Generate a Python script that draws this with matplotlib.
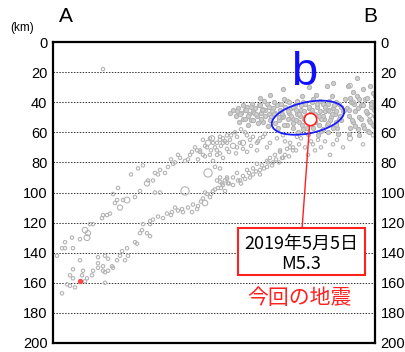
import numpy as np
import matplotlib
matplotlib.use("Agg")
import matplotlib.pyplot as plt
from matplotlib.patches import Ellipse, Rectangle

plt.rcParams["font.family"] = ["Liberation Sans", "Noto Sans CJK JP", "DejaVu Sans"]

# hypocentres along profile A-B: (distance from A, depth km)
deep_tail = [
    (9, 167), (14, 161), (17, 162), (22, 163), (32, 159), (20, 157), (17, 155),
    (29, 155), (30, 152), (20, 151), (39, 155), (34, 157), (40, 152), (45, 150),
    (45, 147), (50, 152), (52, 153), (55, 152), (50, 149), (59, 149), (60, 150),
    (55, 144), (64, 145), (67, 142), (72, 145), (75, 142), (74, 137), (69, 139),
    (82, 133), (84, 134), (87, 127), (89, 125), (94, 127), (97, 129), (97, 121),
    (45, 143), (52, 142), (27, 145), (52, 160), (4, 142),
]

upper_plane = [
    (9, 137), (12, 137), (12, 133), (19, 130), (20, 137), (27, 131), (37, 121),
    (40, 121), (49, 117), (50, 115), (54, 115), (57, 114), (62, 107), (64, 105),
    (70, 105), (82, 103), (87, 99), (95, 92), (100, 92), (102, 87),
    (107, 85), (112, 87), (120, 81), (122, 80), (127, 77), (132, 79), (137, 75),
    (139, 73), (144, 72), (147, 72), (150, 75), (152, 69), (164, 67), (167, 65),
    (170, 64), (174, 67), (167, 74), (164, 75), (150, 65), (157, 64), (160, 67),
    (167, 63), (170, 67), (174, 62), (177, 65), (184, 63), (187, 67), (194, 62),
    (197, 65), (200, 63), (204, 67), (207, 64), (212, 61), (217, 67), (224, 64),
    (230, 62), (237, 67), (244, 63), (154, 70), (164, 72), (174, 71), (184, 70),
    (194, 73), (204, 72), (214, 70), (227, 72), (237, 70), (147, 73), (157, 75),
    (50, 18), (60, 101), (65, 97), (78, 88), (85, 84), (90, 82), (105, 88),
    (115, 83), (118, 78), (125, 75), (135, 78), (142, 70),
    (145, 78), (152, 76), (158, 72), (162, 70), (168, 69), (172, 66), (178, 62),
    (182, 60), (188, 58), (192, 60), (160, 79), (170, 77), (176, 73), (183, 74),
    (190, 71), (198, 69), (205, 66), (210, 63),
]

lower_plane = [
    (90, 121), (97, 119), (110, 117), (114, 114), (119, 113), (125, 112),
    (129, 111), (130, 113), (139, 113), (144, 111), (145, 109), (150, 104),
    (154, 101), (157, 103), (160, 99), (165, 97), (169, 94), (172, 92), (175, 94),
    (174, 90), (167, 90), (164, 92), (162, 83), (167, 84), (102, 100), (107, 100),
    (167, 93), (174, 91), (180, 90), (184, 87), (190, 89), (194, 85), (200, 84),
    (204, 81), (209, 82), (214, 79), (217, 77), (222, 75), (227, 73), (230, 77),
    (234, 71), (240, 70), (170, 95), (187, 92), (197, 90), (207, 85), (214, 83),
    (220, 80), (229, 77), (232, 66), (240, 72), (248, 64), (255, 75), (260, 68),
    (284, 65), (277, 75), (268, 70), (290, 70), (310, 68), (320, 62),
    (100, 118), (105, 116), (118, 115), (122, 110), (135, 110), (140, 108),
    (148, 106), (152, 100),
    (158, 101), (162, 98), (168, 97), (172, 99), (176, 94), (180, 95), (185, 92),
    (188, 94), (192, 91), (196, 87), (200, 88), (203, 86), (207, 88), (211, 84),
    (215, 80), (219, 82), (223, 78), (226, 80), (232, 75), (236, 76), (243, 72),
    (246, 68), (252, 70), (258, 66), (262, 72), (265, 65), (272, 66), (280, 68),
]

flat_cluster = [
    (177, 47), (180, 45), (183, 49), (185, 44), (188, 47), (190, 51), (192, 45),
    (194, 43), (196, 48), (198, 52), (200, 46), (202, 44), (204, 49), (206, 42),
    (208, 47), (210, 53), (212, 45), (214, 41), (216, 48), (218, 50), (220, 44),
    (222, 47), (224, 42), (226, 52), (228, 46), (230, 49), (232, 43), (234, 55),
    (236, 47), (238, 44), (240, 51), (186, 53), (195, 55), (205, 54), (215, 56),
    (225, 57), (199, 41), (211, 39), (221, 40), (231, 38),
    (242, 42), (244, 48), (246, 53), (248, 45), (250, 40), (252, 50), (254, 57),
    (256, 44), (258, 47), (260, 38), (262, 53), (264, 43), (266, 49), (268, 59),
    (270, 41), (272, 46), (274, 55), (276, 39), (278, 50), (280, 44), (282, 48),
    (284, 57), (286, 41), (288, 52), (290, 46), (245, 60), (255, 61), (265, 62),
    (275, 60), (285, 61), (249, 36), (263, 35), (279, 36), (292, 38), (257, 51),
    (271, 51), (283, 53), (247, 49),
    (294, 44), (296, 49), (298, 40), (300, 53), (302, 46), (304, 36), (306, 50),
    (308, 42), (310, 55), (312, 38), (314, 47), (316, 52), (318, 43), (320, 34),
    (322, 49), (297, 57), (305, 58), (315, 59), (300, 33), (310, 31), (319, 40),
    (321, 56),
    (207, 37), (217, 35), (234, 39), (274, 29), (280, 27), (295, 29), (317, 29),
    (230, 31), (256, 30), (304, 24),
    (236, 40), (244, 39), (252, 41), (259, 40), (267, 39), (275, 41), (283, 40),
    (190, 42), (198, 43), (207, 42), (216, 43), (228, 41), (240, 43), (248, 42),
    (256, 43), (264, 41), (272, 43), (281, 42), (288, 43),
    (184, 46), (193, 45), (201, 47), (209, 45), (219, 46), (227, 45), (235, 46),
    (243, 45), (251, 46), (259, 45), (267, 46), (275, 45), (283, 46), (291, 45),
    (187, 48), (195, 49), (203, 48), (212, 49), (221, 48), (229, 48), (238, 49),
    (246, 48), (254, 49), (262, 48), (270, 49), (279, 48), (287, 49),
    (192, 51), (200, 52), (208, 51), (217, 52), (226, 50), (235, 51), (243, 52),
    (251, 51), (260, 52), (268, 51), (277, 52), (286, 51),
    (222, 54), (231, 55), (240, 54), (249, 55), (258, 54), (266, 55), (275, 54),
    (283, 55), (240, 57), (250, 58), (260, 57), (270, 58), (280, 57),
    (297, 37), (306, 38), (314, 37), (322, 36), (301, 41), (310, 42), (318, 41),
    (296, 45), (305, 44), (313, 46), (321, 45), (299, 52), (308, 51), (317, 53),
    (302, 56), (311, 57), (320, 55), (296, 61), (306, 62), (316, 60),
]

# larger events: (distance, depth, magnitude)
large_events = [
    (32, 125, 2.9), (35, 127, 2.8), (34, 130, 3.0), (67, 110, 2.8), (74, 105, 3.0),
    (155, 67, 2.8), (159, 64, 2.8), (155, 87, 3.8), (132, 99, 3.8), (180, 69, 2.8),
    (190, 67, 2.8), (94, 94, 2.8), (152, 107, 2.9), (277, 46, 2.6), (297, 64, 2.7),
    (317, 49, 2.6), (300, 40, 2.5), (230, 50, 2.6), (210, 45, 2.5), (297, 29, 2.6),
]

# other marked event and the target earthquake
red_small = (27, 159)
main_shock = (257, 51.3)
main_date = "2019年5月5日"
main_mag = "M5.3"
main_label = "今回の地震"

depth_ticks = list(range(0, 201, 20))


fig = plt.figure(figsize=(4.05, 3.52), dpi=100)
ax = fig.add_axes([53 / 405, 9 / 352, 322 / 405, 301 / 352])

gray = "#b4b4b4"
for group in [deep_tail, upper_plane, lower_plane]:
    pts = np.array(group, dtype=float)
    ax.scatter(pts[:, 0], pts[:, 1], s=6, facecolors="none",
               edgecolors=gray, linewidths=0.8, zorder=2)

# the shallow cluster is so dense that it reads as a grey mass
pts = np.array(flat_cluster, dtype=float)
ax.scatter(pts[:, 0], pts[:, 1], s=9, facecolors="#cfcfcf",
           edgecolors=gray, linewidths=0.8, zorder=2)

big = np.array(large_events, dtype=float)
sizes = (2 + 2.2 * (big[:, 2] - 2)) ** 2
ax.scatter(big[:, 0], big[:, 1], s=sizes, facecolors="none",
           edgecolors=gray, linewidths=0.8, zorder=2)

ax.scatter([red_small[0]], [red_small[1]], s=8, color="#ff4444", zorder=3)

# blue ellipse round the flat cluster
ax.add_patch(Ellipse((255, 50.3), 73, 21, angle=-7, fill=False,
                     edgecolor="#1a1aff", linewidth=1.3, zorder=4))

# leader line, box and label
ax.plot([main_shock[0], 249], [main_shock[1], 124.5], color="#ff2020",
        linewidth=1.0, zorder=4)
ax.scatter([main_shock[0]], [main_shock[1]], s=80, facecolors="white",
           edgecolors="#ff2020", linewidths=1.2, zorder=5)
ax.add_patch(Rectangle((185, 123.5), 127, 31, fill=True, facecolor="white",
                       edgecolor="#ff2020", linewidth=1.5, zorder=5))
ax.text(248, 134, main_date, ha="center", va="center", fontsize=13,
        family=["Noto Sans CJK JP"], zorder=6)
ax.text(248, 147.5, main_mag, ha="center", va="center", fontsize=13,
        family=["Noto Sans CJK JP"], zorder=6)
ax.text(246, 170, main_label, ha="center", va="center", fontsize=15,
        color="#ff2020", family=["Noto Sans CJK JP"], zorder=6)

ax.text(251, 28.7, "b", ha="center", va="baseline", fontsize=34,
        color="#1010ff", zorder=6)

ax.set_xlim(0, 322)
ax.set_ylim(200, 0)
ax.set_xticks([])
ax.set_yticks(depth_ticks)
ax.tick_params(axis="y", which="both", length=0, pad=4, labelsize=10.5,
               left=True, right=True, labelleft=True, labelright=True)
for y in depth_ticks[1:-1]:
    ax.axhline(y, color="#333333", linewidth=0.7, linestyle=(0, (1.5, 1.5)),
               zorder=1)
for spine in ax.spines.values():
    spine.set_linewidth(1.6)

fig.text(66 / 405, 1 - 16 / 352, "A", ha="center", va="center", fontsize=15)
fig.text(370 / 405, 1 - 16 / 352, "B", ha="center", va="center", fontsize=15)
fig.text(22 / 405, 1 - 28 / 352, "(km)", ha="center", va="center", fontsize=8.5)

fig.savefig("out.png", dpi=100)
